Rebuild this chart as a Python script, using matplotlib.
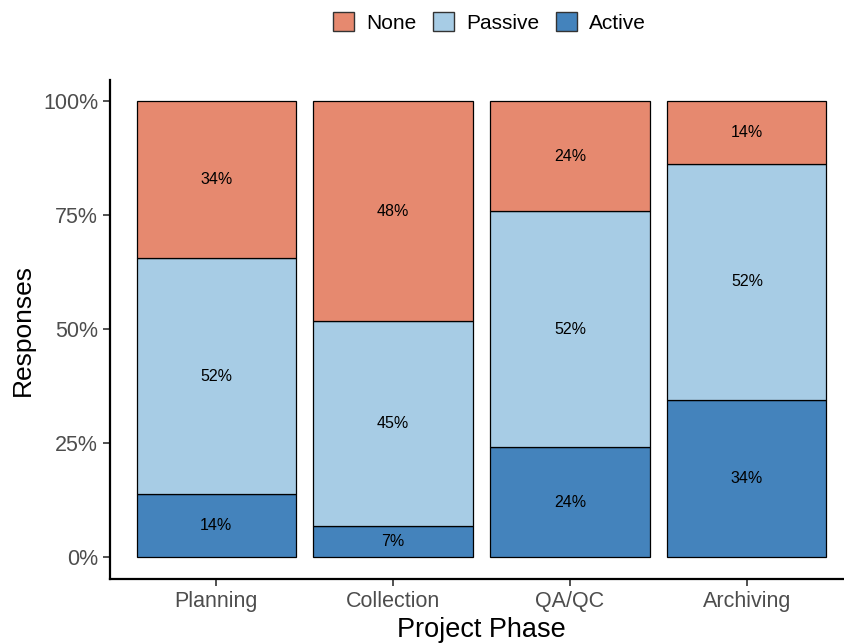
import numpy as np
import matplotlib.pyplot as plt
from matplotlib.patches import Patch

plt.rcParams['font.family'] = ['Liberation Sans', 'DejaVu Sans']

phases = ['Planning', 'Collection', 'QA/QC', 'Archiving']
n_resp = 29
active = np.array([4, 2, 7, 10])
passive = np.array([15, 13, 15, 15])
none = np.array([10, 14, 7, 4])

levels = ['Active', 'Passive', 'None']
colors = {'None': '#E6896F', 'Passive': '#A7CCE5', 'Active': '#4483BC'}

fig = plt.figure(figsize=(8.44, 6.43), dpi=100)
ax = fig.add_axes([0.1303, 0.0995, 0.8804, 0.7761])

x = np.arange(len(phases))
bottom = np.zeros(len(phases))
for name, counts in zip(levels, [active, passive, none]):
    frac = counts / n_resp
    ax.bar(x, frac, 0.9, bottom=bottom, color=colors[name],
           edgecolor='black', linewidth=0.9)
    for xi, b, f in zip(x, bottom, frac):
        ax.text(xi, b + f / 2, f"{f:.0%}", ha='center', va='center', fontsize=11.5)
    bottom += frac

ax.set_xlim(-0.6, len(phases) - 0.4)
ax.set_ylim(-0.048, 1.046)
ax.set_xticks(x)
ax.set_xticklabels(phases)
ax.set_yticks([0, 0.25, 0.5, 0.75, 1.0])
ax.set_yticklabels(['0%', '25%', '50%', '75%', '100%'])
ax.tick_params(labelsize=15.5, labelcolor='#4D4D4D', length=5, width=1.2, color='#333333')
for s in ['top', 'right']:
    ax.spines[s].set_visible(False)
for s in ['left', 'bottom']:
    ax.spines[s].set_linewidth(1.6)

ax.set_xlabel('Project Phase', fontsize=19.5, labelpad=4)
ax.set_ylabel('Responses', fontsize=19, labelpad=6)

handles = [Patch(facecolor=colors[n], edgecolor='#333333', label=n) for n in ['None', 'Passive', 'Active']]
fig.legend(handles=handles, loc='center', bbox_to_anchor=(0.58, 0.965), ncol=3,
           frameon=False, fontsize=15, handlelength=1.0, handleheight=1.0,
           handletextpad=0.6, columnspacing=0.8)

fig.savefig('out.png', dpi=100)
